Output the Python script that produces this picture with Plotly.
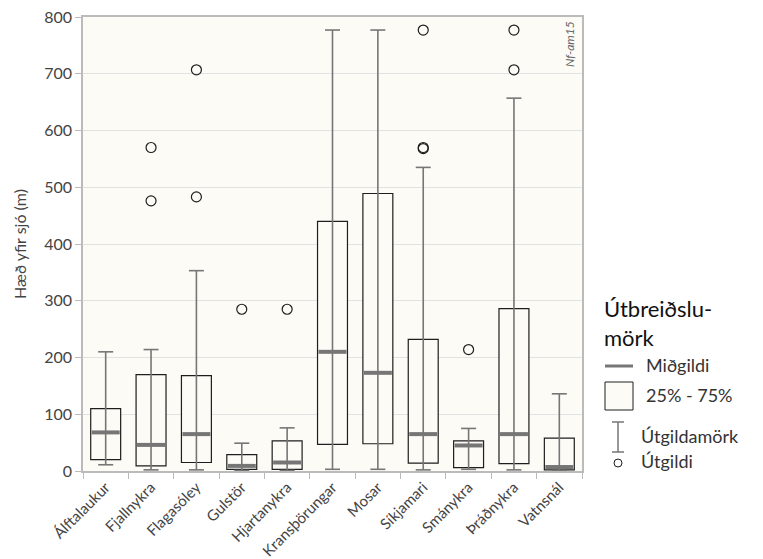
import plotly.graph_objects as go

# Altitude distribution (m above sea level) per species group
categories = ["Álftalaukur", "Fjallnykra", "Flagasóley", "Gulstör", "Hjartanykra",
              "Kransþörungar", "Mosar", "Síkjamari", "Smánykra", "Þráðnykra", "Vatnsnál"]
q1 = [20, 9, 15, 3, 3, 47, 48, 14, 6, 13, 2]
median = [68, 46, 65, 9, 15, 210, 173, 65, 45, 65, 7]
q3 = [110, 170, 168, 29, 53, 440, 489, 232, 53, 286, 58]
lower = [11, 2, 2, 1, 1, 3, 3, 2, 3, 2, 1]
upper = [210, 214, 353, 49, 76, 777, 777, 535, 75, 657, 136]
outlier_cat = ["Fjallnykra", "Fjallnykra", "Flagasóley", "Flagasóley", "Gulstör", "Hjartanykra",
               "Síkjamari", "Síkjamari", "Síkjamari", "Smánykra", "Þráðnykra", "Þráðnykra"]
outlier_val = [570, 476, 707, 483, 285, 285, 777, 570, 568, 214, 777, 707]

BG = "#fcfbf6"
GREY = "#767676"
DARK = "#1e1e1e"
FONT = "Lato"

# plot-area geometry in pixels (for the hand-built legend)
W, H = 763, 559
L, R, T, B = 83, 181, 17, 88
PW, PH = W - L - R, H - T - B


def px(x):
    return (x - L) / PW


def py(y):
    return (H - B - y) / PH


# plotly's line-ew marker spans 1.4 * size pixels
BOX_PX = 30
CAP_PX = 15

fig = go.Figure()

# interquartile boxes
fig.add_trace(go.Bar(
    x=categories, y=[b - a for a, b in zip(q1, q3)], base=q1, width=0.66,
    marker=dict(color=BG, line=dict(color=DARK, width=1.2)),
    hoverinfo="skip", showlegend=False))

# whisker stems
wx, wy = [], []
for c, lo, hi in zip(categories, lower, upper):
    wx += [c, c, None]
    wy += [lo, hi, None]
fig.add_trace(go.Scatter(x=wx, y=wy, mode="lines", line=dict(color=GREY, width=1.6),
                         hoverinfo="skip", showlegend=False))

# whisker caps
fig.add_trace(go.Scatter(
    x=categories + categories, y=lower + upper, mode="markers",
    marker=dict(symbol="line-ew", size=CAP_PX / 1.4, line=dict(color=GREY, width=1.6)),
    hoverinfo="skip", showlegend=False))

# medians
fig.add_trace(go.Scatter(
    x=categories, y=median, mode="markers",
    marker=dict(symbol="line-ew", size=(BOX_PX - 2) / 1.4, line=dict(color=GREY, width=4)),
    hoverinfo="skip", showlegend=False))

# outliers
fig.add_trace(go.Scatter(
    x=outlier_cat, y=outlier_val, mode="markers",
    marker=dict(symbol="circle-open", size=10, color=DARK, line=dict(color=DARK, width=1.2)),
    hoverinfo="skip", showlegend=False))

shapes = [
    dict(type="line", xref="paper", yref="paper", x0=px(605), x1=px(633), y0=py(366), y1=py(366),
         line=dict(color=GREY, width=3)),
    dict(type="rect", xref="paper", yref="paper", x0=px(605), x1=px(633), y0=py(410), y1=py(382),
         line=dict(color=DARK, width=1), fillcolor=BG),
    dict(type="line", xref="paper", yref="paper", x0=px(618), x1=px(618), y0=py(452), y1=py(422),
         line=dict(color=GREY, width=1.5)),
    dict(type="line", xref="paper", yref="paper", x0=px(612), x1=px(624), y0=py(422), y1=py(422),
         line=dict(color=GREY, width=1.5)),
    dict(type="line", xref="paper", yref="paper", x0=px(612), x1=px(624), y0=py(452), y1=py(452),
         line=dict(color=GREY, width=1.5)),
    dict(type="circle", xref="paper", yref="paper", x0=px(614), x1=px(622), y0=py(467), y1=py(459),
         line=dict(color=DARK, width=1)),
]

item_font = dict(family=FONT, size=18, color="#333")
title_font = dict(family=FONT, size=22, color="#111")
annotations = [
    dict(text="Útbreiðslu-<br>mörk", xref="paper", yref="paper", x=px(602), y=py(323),
         xanchor="left", yanchor="middle", align="left", showarrow=False, font=title_font),
    dict(text="Miðgildi", xref="paper", yref="paper", x=px(644), y=py(365),
         xanchor="left", yanchor="middle", showarrow=False, font=item_font),
    dict(text="25% - 75%", xref="paper", yref="paper", x=px(644), y=py(395),
         xanchor="left", yanchor="middle", showarrow=False, font=item_font),
    dict(text="Útgildamörk", xref="paper", yref="paper", x=px(639), y=py(436),
         xanchor="left", yanchor="middle", showarrow=False, font=item_font),
    dict(text="Útgildi", xref="paper", yref="paper", x=px(639), y=py(461),
         xanchor="left", yanchor="middle", showarrow=False, font=item_font),
    dict(text="<i>Nf-am15</i>", xref="paper", yref="paper", x=px(569), y=py(44), textangle=-90,
         xanchor="center", yanchor="middle", showarrow=False, font=dict(family=FONT, size=12, color="#666")),
]

fig.update_layout(
    width=W, height=H, margin=dict(l=L, r=R, t=T, b=B, autoexpand=False),
    paper_bgcolor="white", plot_bgcolor=BG,
    font=dict(family=FONT, size=14, color="#444"),
    shapes=shapes, annotations=annotations, barmode="overlay",
)
fig.update_xaxes(
    type="category", categoryorder="array", categoryarray=categories, range=[-0.5, 10.5],
    tickangle=-45, ticks="outside", tickson="boundaries", ticklen=6, tickcolor="#bbb",
    showline=True, linecolor="#bbb", linewidth=1.5, mirror=True, showgrid=False,
    automargin=False, tickfont=dict(family=FONT, size=15, color="#444"),
)
fig.update_yaxes(
    range=[0, 800], dtick=100, ticks="outside", ticklen=6, tickcolor="#bbb",
    showline=True, linecolor="#bbb", linewidth=1.5, mirror=True,
    showgrid=True, gridcolor="#e2e2e2", gridwidth=1, zeroline=False, automargin=False,
    tickfont=dict(family=FONT, size=16, color="#444"),
    title=dict(text="Hæð yfir sjó (m)", standoff=14, font=dict(family=FONT, size=16, color="#444")),
)

fig.write_html("out.html")
